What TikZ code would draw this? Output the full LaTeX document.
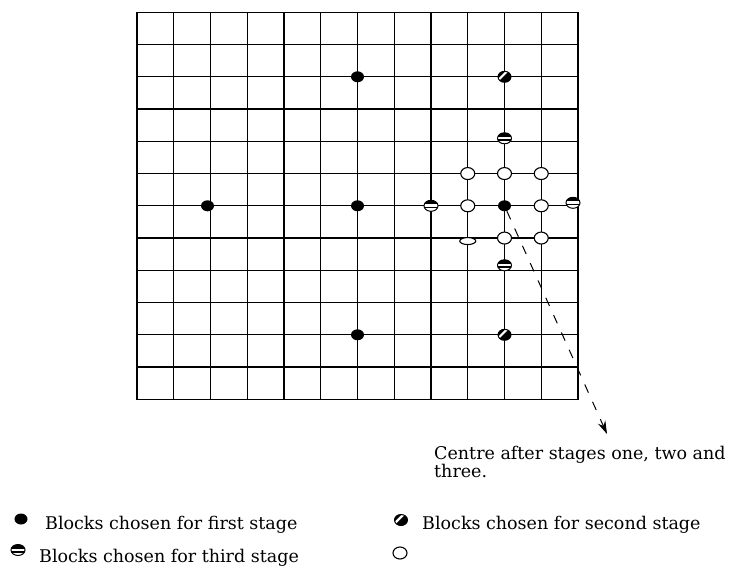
\documentclass[tikz,border=0pt]{standalone}
\usepackage{fontspec}
\setmainfont{DejaVu Serif}
\usetikzlibrary{arrows.meta,shapes.geometric}

\begin{document}
\begin{tikzpicture}[
    x=1pt, y=-1pt,
    gridline/.style={line width=1.3pt, line cap=rect},
    first/.style={ellipse, fill=black, inner sep=0pt, minimum width=13pt, minimum height=11pt},
    second/.style={ellipse, draw, line width=1pt, fill=black, inner sep=0pt, minimum width=13pt, minimum height=11pt,
        path picture={\draw[white, line width=2.2pt] ([shift={(-6pt,-3pt)}]path picture bounding box.center) -- ([shift={(3pt,6pt)}]path picture bounding box.center);}},
    third/.style={ellipse, draw, line width=1pt, fill=white, inner sep=0pt, minimum width=14pt, minimum height=11pt,
        path picture={\fill[black] (path picture bounding box.north west) rectangle ([yshift=-4pt]path picture bounding box.north east);
                      \fill[black] ([yshift=-0.8pt]path picture bounding box.west) rectangle ([yshift=-2.6pt]path picture bounding box.east);}},
    fourth/.style={ellipse, draw, line width=1.1pt, fill=white, inner sep=0pt, minimum width=14pt, minimum height=12pt},
    flat/.style={ellipse, draw, line width=1.1pt, fill=white, inner sep=0pt, minimum width=16pt, minimum height=7pt},
    leader/.style={-{Stealth[length=13pt, width=8pt]}, line width=1pt, dash pattern=on 9pt off 10pt},
    legend/.style={font=\fontsize{17.5}{20}\selectfont, anchor=base west, inner sep=0pt}
]
    \useasboundingbox (0,0) rectangle (729,574);

    \begin{scope}[shift={(137,12.3)}, x=36.75pt, y=-32.25pt]
        \foreach \i in {0,...,12} {
            \draw[gridline] (\i,0) -- (\i,12);
            \draw[gridline] (0,\i) -- (12,\i);
        }

        \node[first] (f1) at (6,2) {};
        \node[first, xshift=-3pt] (f2) at (2,6) {};
        \node[first] (f3) at (6,6) {};
        \node[first] (f4) at (6,10) {};
        \node[first] (c) at (10,6) {};

        \node[second] (s1) at (10,2) {};
        \node[second] (s2) at (10,10) {};

        \node[third, yshift=3pt] (t1) at (10,4) {};
        \node[third] (t2) at (8,6) {};
        \node[third, xshift=-5pt, yshift=3pt] (t3) at (12,6) {};
        \node[third, yshift=5pt] (t4) at (10,8) {};

        \node[fourth] (w1) at (9,5) {};
        \node[fourth] (w2) at (10,5) {};
        \node[fourth] (w3) at (11,5) {};
        \node[fourth] (w4) at (9,6) {};
        \node[fourth] (w5) at (11,6) {};
        \node[flat, yshift=-3pt] (w6) at (9,7) {};
        \node[fourth] (w7) at (10,7) {};
        \node[fourth] (w8) at (11,7) {};
    \end{scope}

    \coordinate (tip) at (607,434);
    \draw[leader] (c) -- (tip);

    \node[font=\fontsize{17.5}{13.5}\selectfont, align=left, anchor=north west, inner sep=0pt] (note) at (434,446)
        {Centre after stages one, two and\\three.};

    \node[first] (k1) at (21,519) {};
    \node[legend] (l1) at (45,529) {Blocks chosen for first stage};
    \node[second] (k2) at (401,520) {};
    \node[legend] (l2) at (422,529) {Blocks chosen for second stage};
    \node[third] (k3) at (18,550) {};
    \node[legend] (l3) at (39,562) {Blocks chosen for third stage};
    \node[fourth] (k4) at (400,553) {};
\end{tikzpicture}
\end{document}
